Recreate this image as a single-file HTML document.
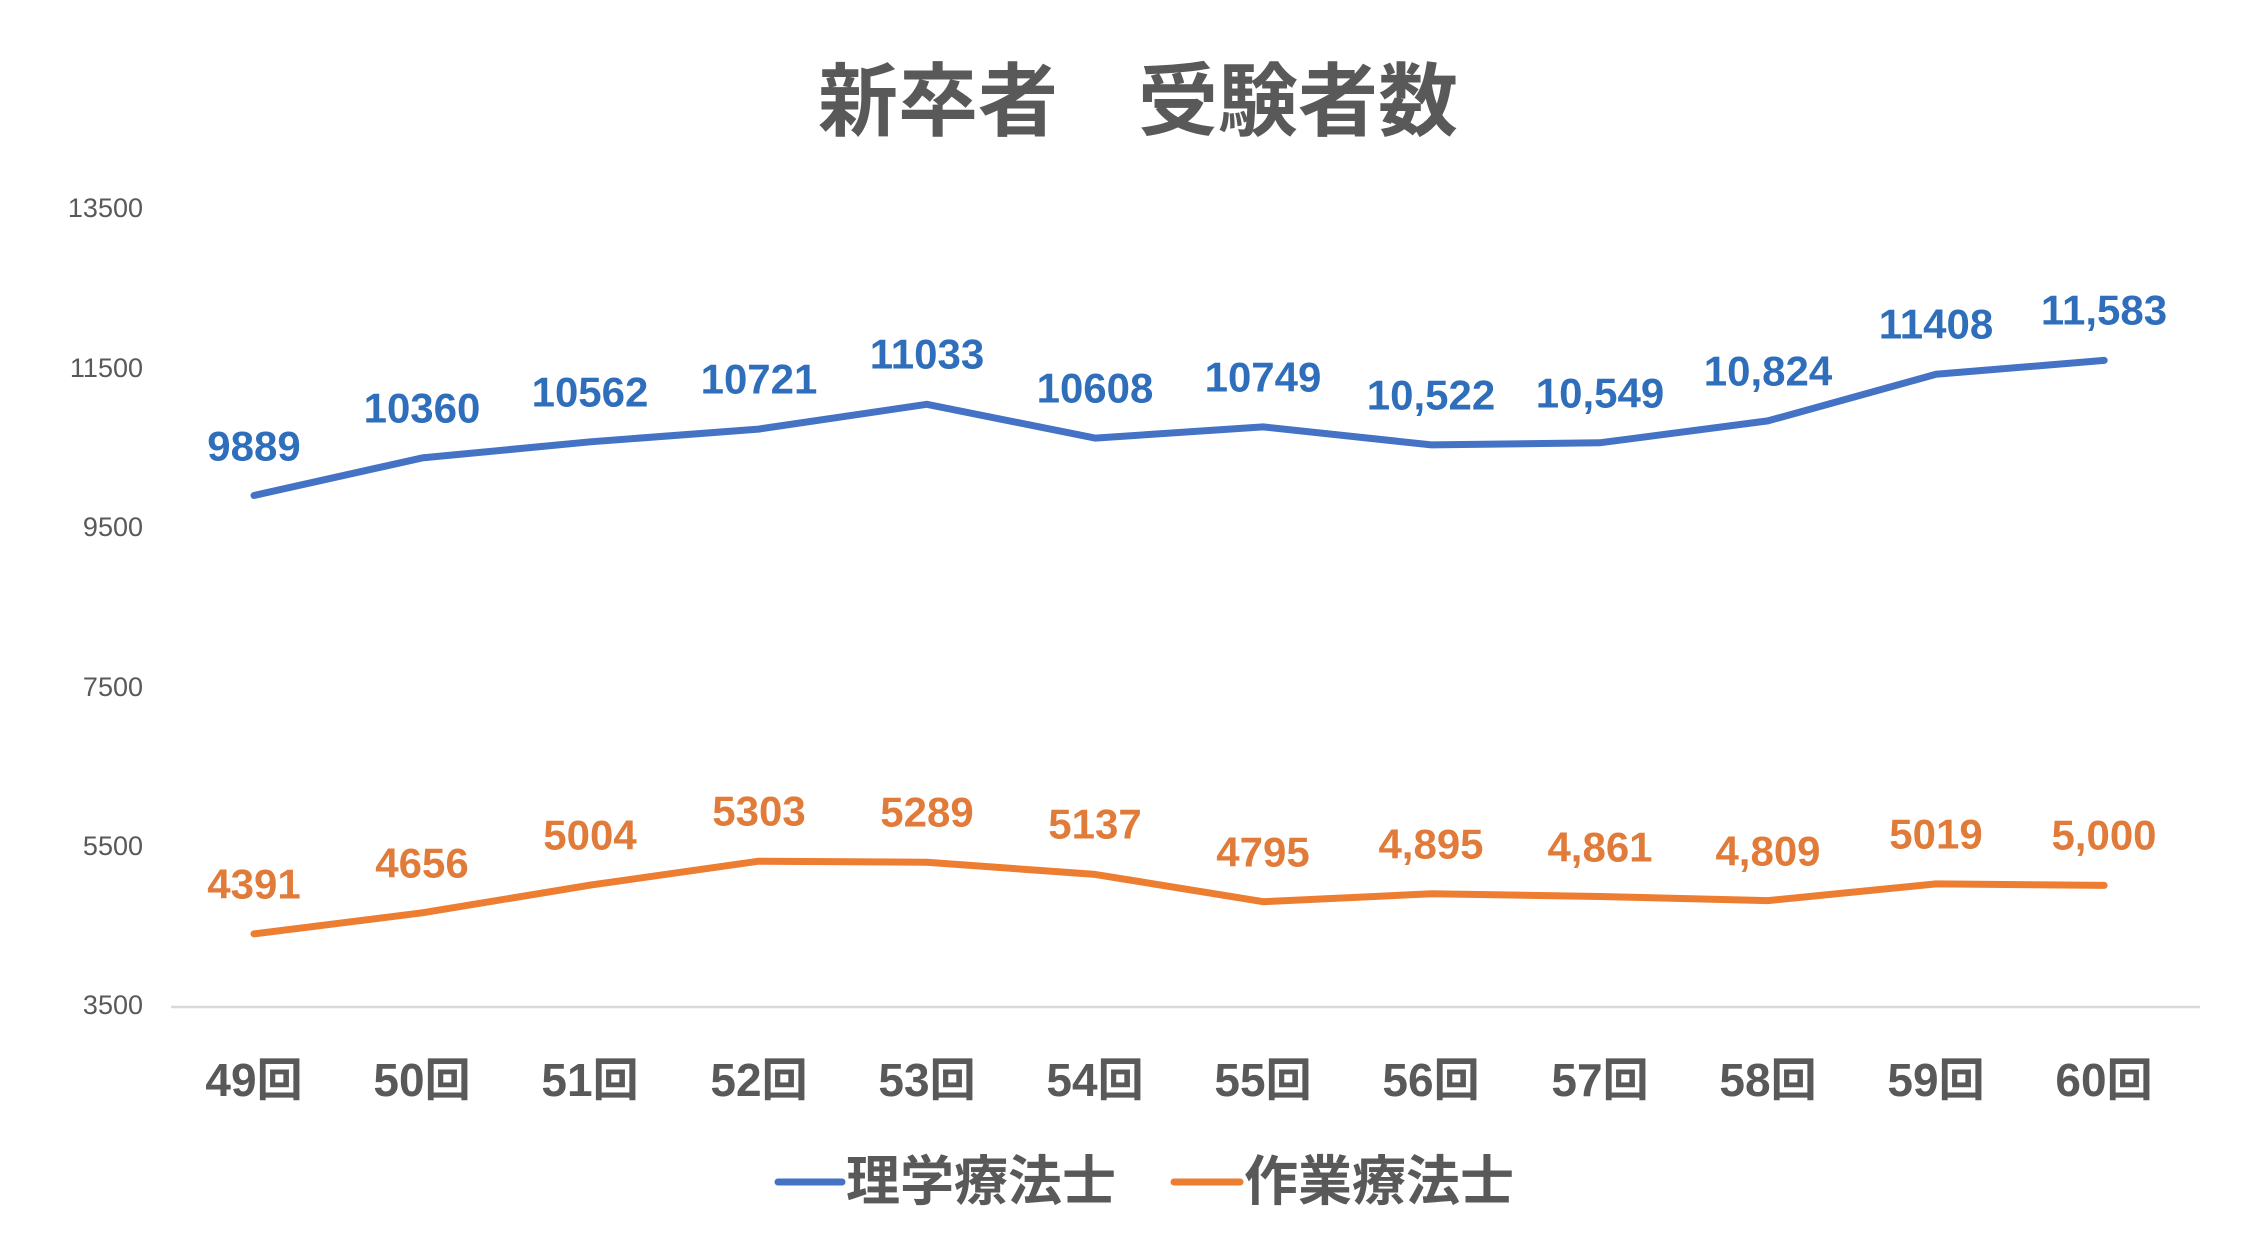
<!DOCTYPE html>
<html><head><meta charset="utf-8"><style>
html,body{margin:0;padding:0;background:#fff;width:2262px;height:1242px;overflow:hidden}
svg text{font-family:"Liberation Sans","Noto Sans CJK JP",sans-serif}
</style></head><body>
<svg width="2262" height="1242" viewBox="0 0 2262 1242" xmlns="http://www.w3.org/2000/svg">
<text x="1138" y="102" text-anchor="middle" dominant-baseline="central" font-size="80" font-weight="bold" fill="#595959">新卒者　受験者数</text>
<g font-size="27" fill="#595959" text-anchor="end" dominant-baseline="central">
<text x="143" y="208">13500</text><text x="143" y="368">11500</text><text x="143" y="527">9500</text>
<text x="143" y="687">7500</text><text x="143" y="846">5500</text><text x="143" y="1005">3500</text>
</g>
<line x1="171" y1="1007" x2="2200" y2="1007" stroke="#d9d9d9" stroke-width="2.5"/>
<polyline fill="none" stroke="#4472C4" stroke-width="7" stroke-linecap="round" stroke-linejoin="round"
points="254,495.5 422.2,457.9 590.4,441.8 758.6,429.1 926.8,404.3 1095,438.1 1263.2,426.9 1431.4,444.9 1599.6,442.8 1767.8,420.9 1936,374.3 2104.2,360.4"/>
<polyline fill="none" stroke="#ED7D31" stroke-width="7" stroke-linecap="round" stroke-linejoin="round"
points="254,933.9 422.2,912.8 590.4,885.1 758.6,861.2 926.8,862.3 1095,874.4 1263.2,901.7 1431.4,893.8 1599.6,896.5 1767.8,900.6 1936,883.9 2104.2,885.4"/>
<g font-size="42" font-weight="bold" fill="#2F6EBA" text-anchor="middle" dominant-baseline="central">
<text x="254" y="446">9889</text><text x="422" y="408">10360</text><text x="590" y="392">10562</text>
<text x="759" y="379">10721</text><text x="927" y="354">11033</text><text x="1095" y="388">10608</text>
<text x="1263" y="377">10749</text><text x="1431" y="395">10,522</text><text x="1600" y="393">10,549</text>
<text x="1768" y="371">10,824</text><text x="1936" y="324">11408</text><text x="2104" y="310">11,583</text>
</g>
<g font-size="42" font-weight="bold" fill="#E07B39" text-anchor="middle" dominant-baseline="central">
<text x="254" y="884">4391</text><text x="422" y="863">4656</text><text x="590" y="835">5004</text>
<text x="759" y="811">5303</text><text x="927" y="812">5289</text><text x="1095" y="824">5137</text>
<text x="1263" y="852">4795</text><text x="1431" y="844">4,895</text><text x="1600" y="847">4,861</text>
<text x="1768" y="851">4,809</text><text x="1936" y="834">5019</text><text x="2104" y="835">5,000</text>
</g>
<g font-size="46" font-weight="bold" fill="#595959" text-anchor="middle" dominant-baseline="central">
<text x="254" y="1080">49回</text><text x="422" y="1080">50回</text><text x="590" y="1080">51回</text>
<text x="759" y="1080">52回</text><text x="927" y="1080">53回</text><text x="1095" y="1080">54回</text>
<text x="1263" y="1080">55回</text><text x="1431" y="1080">56回</text><text x="1600" y="1080">57回</text>
<text x="1768" y="1080">58回</text><text x="1936" y="1080">59回</text><text x="2104" y="1080">60回</text>
</g>
<line x1="778" y1="1182" x2="842" y2="1182" stroke="#4472C4" stroke-width="7" stroke-linecap="round"/>
<text x="846" y="1182" font-size="54" font-weight="bold" fill="#595959" dominant-baseline="central">理学療法士</text>
<line x1="1174" y1="1182" x2="1240" y2="1182" stroke="#ED7D31" stroke-width="7" stroke-linecap="round"/>
<text x="1244" y="1182" font-size="54" font-weight="bold" fill="#595959" dominant-baseline="central">作業療法士</text>
</svg>
</body></html>
